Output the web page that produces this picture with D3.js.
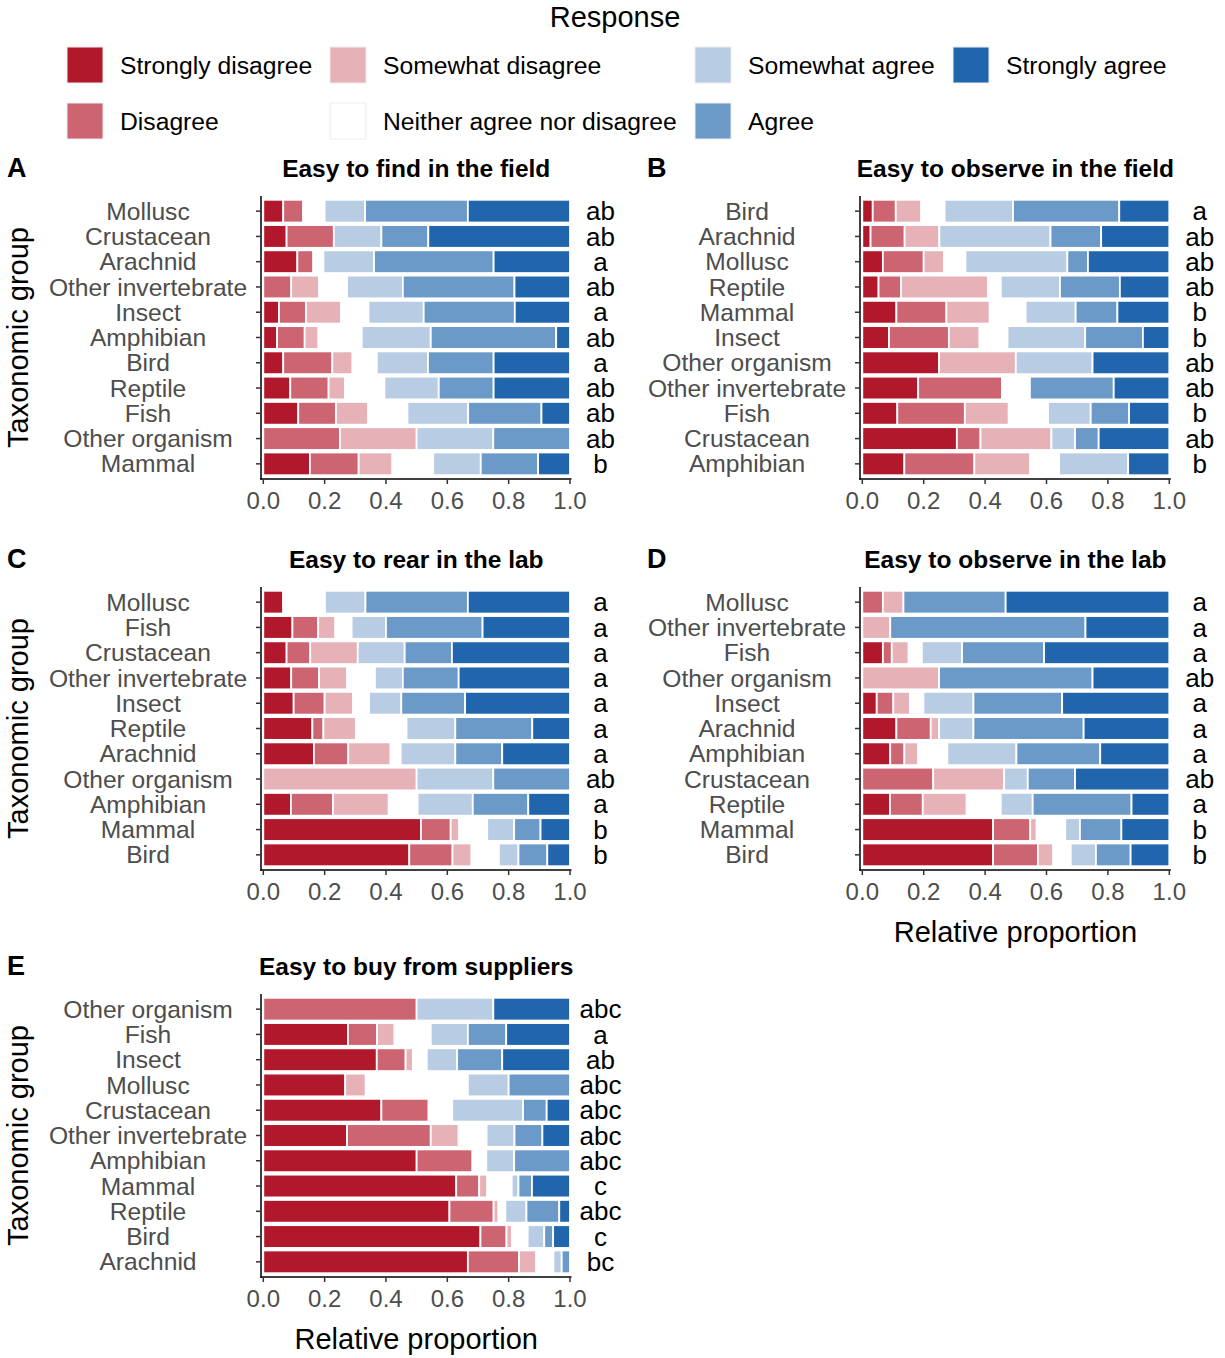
<!DOCTYPE html>
<html>
<head>
<meta charset="utf-8">
<script src="https://cdn.jsdelivr.net/npm/d3@7"></script>
<style>
  html, body { margin: 0; padding: 0; background: #fff; }
  svg { display: block; font-family: "Liberation Sans", Arial, Helvetica, sans-serif; }
</style>
</head>
<body>
<svg id="chart" width="1225" height="1358"></svg>
<script>
// Response levels, ordered from strongest disagreement to strongest agreement
const responses = ["Strongly disagree", "Disagree", "Somewhat disagree",
  "Neither agree nor disagree", "Somewhat agree", "Agree", "Strongly agree"];
const responseColors = ["#B2182B", "#CC6571", "#E6B2B8", "#FFFFFF", "#B8CDE3", "#6B9AC9", "#2166AC"];
const xTicks = [0, 0.2, 0.4, 0.6, 0.8, 1.0];

// A: Easy to find in the field
const groupsA = ["Mollusc", "Crustacean", "Arachnid", "Other invertebrate", "Insect", "Amphibian",
  "Bird", "Reptile", "Fish", "Other organism", "Mammal"];
const valuesA = [
  [.065, .065, 0, .070, .132, .335, .333],
  [.076, .154, 0, 0, .155, .153, .462],
  [.111, .052, 0, .033, .165, .390, .249],
  [0, .091, .091, .091, .182, .364, .181],
  [.051, .088, .115, .089, .180, .297, .180],
  [.045, .090, .045, .141, .225, .409, .045],
  [.065, .160, .066, .079, .167, .214, .249],
  [.088, .125, .053, .129, .177, .179, .249],
  [.114, .123, .105, .128, .198, .239, .093],
  [0, .25, .25, 0, .25, .25, 0],
  [.152, .159, .110, .133, .155, .187, .104]
];
const lettersA = ["ab", "ab", "a", "ab", "a", "ab", "a", "ab", "ab", "ab", "b"];

// B: Easy to observe in the field
const groupsB = ["Bird", "Arachnid", "Mollusc", "Reptile", "Mammal", "Insect",
  "Other organism", "Other invertebrate", "Fish", "Crustacean", "Amphibian"];
const valuesB = [
  [.034, .075, .083, .076, .223, .346, .163],
  [.027, .111, .113, 0, .362, .165, .222],
  [.067, .133, .066, .070, .332, .067, .265],
  [.053, .073, .284, .041, .193, .195, .161],
  [.111, .163, .141, .117, .163, .136, .169],
  [.087, .195, .100, .091, .253, .188, .086],
  [.25, 0, .25, 0, .25, 0, .25],
  [.182, .273, 0, .091, 0, .273, .181],
  [.114, .220, .143, .128, .139, .125, .131],
  [.308, .077, .231, 0, .077, .077, .230],
  [.137, .228, .182, .094, .225, 0, .134]
];
const lettersB = ["a", "ab", "ab", "ab", "b", "b", "ab", "ab", "b", "ab", "b"];

// C: Easy to rear in the lab
const groupsC = ["Mollusc", "Fish", "Crustacean", "Other invertebrate", "Insect", "Reptile",
  "Arachnid", "Other organism", "Amphibian", "Mammal", "Bird"];
const valuesC = [
  [.065, 0, 0, .136, .132, .334, .333],
  [.095, .084, .056, .053, .112, .315, .285],
  [.076, .077, .155, 0, .153, .154, .385],
  [.091, .091, .091, .091, .091, .182, .363],
  [.099, .101, .093, .052, .105, .208, .342],
  [.160, .036, .106, .165, .159, .251, .123],
  [.165, .112, .138, .033, .178, .153, .221],
  [0, 0, .5, 0, .25, .25, 0],
  [.090, .137, .182, .094, .180, .181, .136],
  [.514, .097, .028, .091, .088, .086, .096],
  [.476, .141, .062, .089, .064, .094, .074]
];
const lettersC = ["a", "a", "a", "a", "a", "a", "a", "ab", "a", "b", "b"];

// D: Easy to observe in the lab
const groupsD = ["Mollusc", "Other invertebrate", "Fish", "Other organism", "Insect", "Arachnid",
  "Amphibian", "Crustacean", "Reptile", "Mammal", "Bird"];
const valuesD = [
  [0, .067, .067, 0, 0, .333, .533],
  [0, 0, .091, 0, 0, .636, .273],
  [.067, .029, .055, .043, .131, .267, .408],
  [0, 0, .25, 0, 0, .5, .25],
  [.047, .054, .054, .044, .163, .289, .349],
  [.111, .112, .027, 0, .112, .359, .279],
  [.091, .046, .045, .095, .225, .273, .225],
  [0, .231, .231, 0, .077, .154, .307],
  [.090, .107, .143, .111, .104, .322, .123],
  [.426, .121, .021, .093, .048, .135, .156],
  [.426, .146, .050, .057, .082, .113, .126]
];
const lettersD = ["a", "a", "a", "ab", "a", "a", "a", "ab", "a", "b", "b"];

// E: Easy to buy from suppliers
const groupsE = ["Other organism", "Fish", "Insect", "Mollusc", "Crustacean", "Other invertebrate",
  "Amphibian", "Mammal", "Reptile", "Bird", "Arachnid"];
const valuesE = [
  [0, .5, 0, 0, .25, 0, .25],
  [.276, .095, .057, .118, .121, .125, .208],
  [.370, .094, .024, .045, .099, .147, .221],
  [.267, 0, .067, .333, .133, .2, 0],
  [.385, .154, 0, .077, .231, .077, .076],
  [.273, .273, .091, .091, .091, .091, .090],
  [.5, .182, 0, .045, .091, .182, 0],
  [.629, .075, .026, .080, .022, .044, .124],
  [.607, .144, .016, .022, .069, .107, .035],
  [.708, .085, .018, .051, .054, .029, .055],
  [.667, .167, .056, .056, .027, .027, 0]
];
const lettersE = ["abc", "a", "ab", "abc", "abc", "abc", "abc", "c", "abc", "c", "bc"];

const svg = d3.select("#chart");
const color = d3.scaleOrdinal().domain(responses).range(responseColors);
const textGrey = "#4D4D4D";

// ---- Legend ----
svg.append("text")
  .attr("x", 615).attr("y", 17).attr("dy", "0.35em")
  .attr("text-anchor", "middle")
  .style("font-size", "29px").attr("fill", "#000")
  .text("Response");

const legendCols = [67, 330, 695, 953];
const legendRows = [65, 121];
responses.forEach((r, i) => {
  const col = Math.floor(i / 2), row = i % 2;
  const g = svg.append("g")
    .attr("transform", `translate(${legendCols[col]},${legendRows[row]})`);
  g.append("rect")
    .attr("x", 0).attr("y", -18).attr("width", 36).attr("height", 36)
    .attr("fill", color(r)).attr("stroke", "#EDEDED").attr("stroke-width", 1);
  g.append("text")
    .attr("x", 53).attr("y", 0).attr("dy", "0.35em")
    .style("font-size", "24.7px").attr("fill", "#000")
    .text(r);
});

// ---- Panels ----
const panels = [
  { tag: "A", title: "Easy to find in the field", groups: groupsA, values: valuesA, letters: lettersA,
    left: 261, xr: [263.3, 570], yr: [196, 479], yTitle: true, xTitle: false },
  { tag: "B", title: "Easy to observe in the field", groups: groupsB, values: valuesB, letters: lettersB,
    left: 860, xr: [862.3, 1169.3], yr: [196, 479], yTitle: false, xTitle: false },
  { tag: "C", title: "Easy to rear in the lab", groups: groupsC, values: valuesC, letters: lettersC,
    left: 261, xr: [263.3, 570], yr: [587, 870], yTitle: true, xTitle: false },
  { tag: "D", title: "Easy to observe in the lab", groups: groupsD, values: valuesD, letters: lettersD,
    left: 860, xr: [862.3, 1169.3], yr: [587, 870], yTitle: false, xTitle: true },
  { tag: "E", title: "Easy to buy from suppliers", groups: groupsE, values: valuesE, letters: lettersE,
    left: 261, xr: [263.3, 570], yr: [994, 1277], yTitle: true, xTitle: true }
];

const stack = d3.stack().keys(responses);

panels.forEach(p => {
  const x = d3.scaleLinear().domain([0, 1]).range(p.xr);
  const y = d3.scaleBand().domain(p.groups).range(p.yr)
    .paddingInner(0.1).paddingOuter(0.15);
  const right = x(1) + 1.5;
  const bottom = p.yr[1];
  const g = svg.append("g");

  // rows as objects keyed by response for stacking
  const rows = p.groups.map((grp, i) => {
    const o = { group: grp };
    responses.forEach((r, j) => { o[r] = p.values[i][j]; });
    return o;
  });
  const series = stack(rows);

  g.selectAll("g.series").data(series).join("g")
    .attr("class", "series")
    .attr("fill", d => color(d.key))
    .selectAll("rect").data(d => d.filter(s => s[1] - s[0] > 0)).join("rect")
    .attr("x", d => x(d[0]))
    .attr("width", d => x(d[1]) - x(d[0]))
    .attr("y", d => y(d.data.group))
    .attr("height", y.bandwidth())
    .attr("stroke", "#fff")
    .attr("stroke-width", 1.8);

  // y axis: line, ticks and centred category labels
  g.append("line")
    .attr("x1", p.left).attr("x2", p.left).attr("y1", p.yr[0]).attr("y2", bottom + 0.75)
    .attr("stroke", "#000").attr("stroke-width", 1.5);
  p.groups.forEach(grp => {
    const cy = y(grp) + y.bandwidth() / 2;
    g.append("line")
      .attr("x1", p.left - 5).attr("x2", p.left).attr("y1", cy).attr("y2", cy)
      .attr("stroke", "#333").attr("stroke-width", 1.5);
    g.append("text")
      .attr("x", p.left - 113).attr("y", cy).attr("dy", "0.35em")
      .attr("text-anchor", "middle")
      .style("font-size", "24.6px").attr("fill", textGrey)
      .text(grp);
  });

  // significance letters to the right of each bar
  p.groups.forEach((grp, i) => {
    const cy = y(grp) + y.bandwidth() / 2;
    g.append("text")
      .attr("x", x(1) + 30.5).attr("y", cy).attr("dy", "0.35em")
      .attr("text-anchor", "middle")
      .style("font-size", "26px").attr("fill", "#000")
      .text(p.letters[i]);
  });

  // x axis
  g.append("line")
    .attr("x1", p.left - 0.75).attr("x2", right).attr("y1", bottom).attr("y2", bottom)
    .attr("stroke", "#000").attr("stroke-width", 1.5);
  xTicks.forEach(t => {
    g.append("line")
      .attr("x1", x(t)).attr("x2", x(t)).attr("y1", bottom).attr("y2", bottom + 5)
      .attr("stroke", "#333").attr("stroke-width", 1.5);
    g.append("text")
      .attr("x", x(t)).attr("y", bottom + 22).attr("dy", "0.35em")
      .attr("text-anchor", "middle")
      .style("font-size", "24px").attr("fill", textGrey)
      .text(d3.format(".1f")(t));
  });

  // panel tag and title
  const midX = (p.left + right) / 2;
  g.append("text")
    .attr("x", p.left === 261 ? 7 : 647).attr("y", p.yr[0] - 28).attr("dy", "0.35em")
    .style("font-size", "27px").style("font-weight", "bold").attr("fill", "#000")
    .text(p.tag);
  g.append("text")
    .attr("x", midX).attr("y", p.yr[0] - 28).attr("dy", "0.35em")
    .attr("text-anchor", "middle")
    .style("font-size", "24.5px").style("font-weight", "bold").attr("fill", "#000")
    .text(p.title);

  if (p.yTitle) {
    const cy = (p.yr[0] + bottom) / 2;
    g.append("text")
      .attr("transform", `translate(18,${cy}) rotate(-90)`)
      .attr("dy", "0.35em")
      .attr("text-anchor", "middle")
      .style("font-size", "29px").attr("fill", "#000")
      .text("Taxonomic group");
  }
  if (p.xTitle) {
    g.append("text")
      .attr("x", midX).attr("y", bottom + 62).attr("dy", "0.35em")
      .attr("text-anchor", "middle")
      .style("font-size", "29px").attr("fill", "#000")
      .text("Relative proportion");
  }
});
</script>
</body>
</html>
